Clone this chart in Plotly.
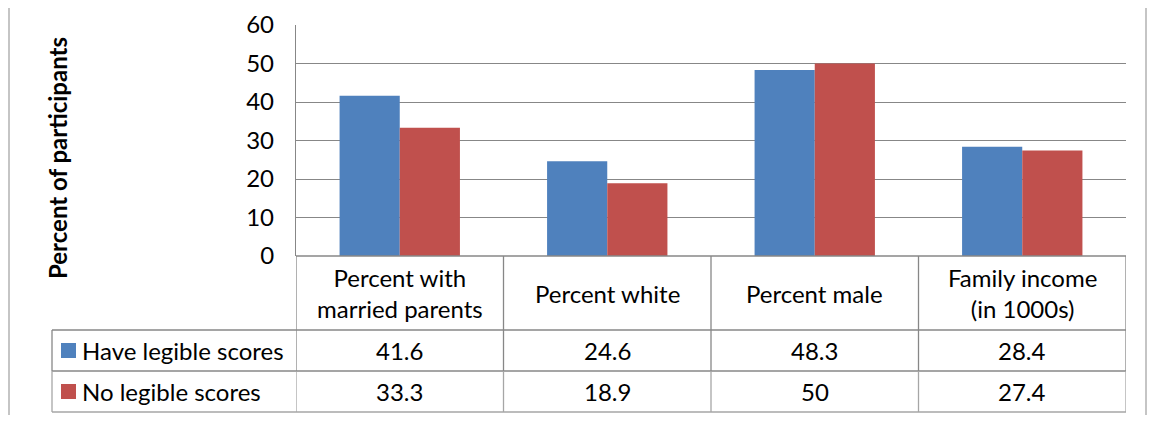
import plotly.graph_objects as go

categories = ["Percent with<br>married parents", "Percent white", "Percent male", "Family income<br>(in 1000s)"]
series_names = ["Have legible scores", "No legible scores"]
have_scores = [41.6, 24.6, 48.3, 28.4]
no_scores = [33.3, 18.9, 50, 27.4]
table_text = [["41.6", "24.6", "48.3", "28.4"], ["33.3", "18.9", "50", "27.4"]]
colors = ["#4F81BD", "#C0504D"]

# page body has an 8px default margin; figure sized to fit the window
OFF = 8
W, H = 1147, 407
FONT = "Lato"
FS = 24
GRID = "#878787"
LIGHT = "#A6A6A6"

def px(x):
    return (x - OFF) / W

def py(y):
    return 1 - (y - OFF) / H

fig = go.Figure()
for name, vals, col in zip(series_names, [have_scores, no_scores], colors):
    fig.add_trace(go.Bar(x=list(range(len(categories))), y=vals, name=name,
                         marker=dict(color=col, line=dict(width=0)),
                         showlegend=False, hoverinfo="skip"))

x_left, x_right = 296, 1126
y_top, y_zero = 25, 256
row_lines = [256, 330, 371, 412]
leg_left = 52

fig.update_layout(
    width=W, height=H, margin=dict(l=0, r=0, t=0, b=0, pad=0),
    paper_bgcolor="white", plot_bgcolor="white",
    barmode="group", bargap=0.42, bargroupgap=0,
    font=dict(family=FONT, size=FS, color="black"),
    xaxis=dict(domain=[px(x_left), px(x_right)], range=[-0.5, len(categories) - 0.5],
               showticklabels=False, showgrid=False, zeroline=False, showline=False,
               fixedrange=True, automargin=False),
    yaxis=dict(domain=[py(y_zero), py(y_top)], range=[0, 60], dtick=10, tick0=0,
               showgrid=True, gridcolor=GRID, gridwidth=1.3, zeroline=False,
               showline=True, linecolor=GRID, linewidth=1.3, ticks="",
               ticklabelstandoff=16, tickfont=dict(size=FS, family=FONT),
               automargin=False, fixedrange=True),
)

def hline(x0, x1, y, color=GRID, xref="paper"):
    return dict(type="line", xref=xref, yref="paper", x0=x0, x1=x1, y0=py(y), y1=py(y),
                line=dict(color=color, width=1.3))

def vline(x, y0, y1, color=GRID, xref="paper"):
    return dict(type="line", xref=xref, yref="paper", x0=x, x1=x, y0=py(y0), y1=py(y1),
                line=dict(color=color, width=1.3))

shapes = []
shapes.append(hline(-0.5, len(categories) - 0.5, row_lines[0], xref="x"))
shapes.append(hline(px(leg_left), px(x_right), row_lines[1]))
shapes.append(hline(px(leg_left), px(x_right), row_lines[2]))
shapes.append(hline(px(leg_left), px(x_right), row_lines[3], color=LIGHT))
for i in range(len(categories) + 1):
    shapes.append(vline(i - 0.5, row_lines[0], row_lines[2], xref="x"))
    shapes.append(vline(i - 0.5, row_lines[2], row_lines[3], color=LIGHT, xref="x"))
shapes.append(vline(px(leg_left), row_lines[1], row_lines[2]))
shapes.append(vline(px(leg_left), row_lines[2], row_lines[3], color=LIGHT))
# outer chart border
for bx in [9, 1146]:
    shapes.append(dict(type="line", xref="paper", yref="paper", x0=px(bx), x1=px(bx),
                       y0=0, y1=1, line=dict(color="#A6A6A6", width=1.3)))
for r, col in enumerate(colors):
    cy = (row_lines[r + 1] + row_lines[r + 2]) / 2
    shapes.append(dict(type="rect", xref="paper", yref="paper", x0=px(61), x1=px(76),
                       y0=py(cy + 7.5), y1=py(cy - 7.5), fillcolor=col, line=dict(width=0)))

annotations = []
cat_mid = (row_lines[0] + row_lines[1]) / 2
for i, c in enumerate(categories):
    annotations.append(dict(x=i, y=py(cat_mid), xref="x", yref="paper", text=c, showarrow=False,
                            xanchor="center", yanchor="middle", font=dict(size=FS, family=FONT)))
for r in range(2):
    cy = (row_lines[r + 1] + row_lines[r + 2]) / 2
    annotations.append(dict(x=px(80), y=py(cy), xref="paper", yref="paper", text=series_names[r],
                            showarrow=False, xanchor="left", yanchor="middle",
                            font=dict(size=FS, family=FONT)))
    for i in range(len(categories)):
        annotations.append(dict(x=i, y=py(cy), xref="x", yref="paper", text=table_text[r][i],
                                showarrow=False, xanchor="center", yanchor="middle",
                                font=dict(size=FS, family=FONT)))
annotations.append(dict(x=px(57), y=py(158), xref="paper", yref="paper",
                        text="<b>Percent of participants</b>", textangle=-90, showarrow=False,
                        xanchor="center", yanchor="middle", font=dict(size=FS, family=FONT)))

fig.update_layout(shapes=shapes, annotations=annotations)
fig.write_html("out.html")
